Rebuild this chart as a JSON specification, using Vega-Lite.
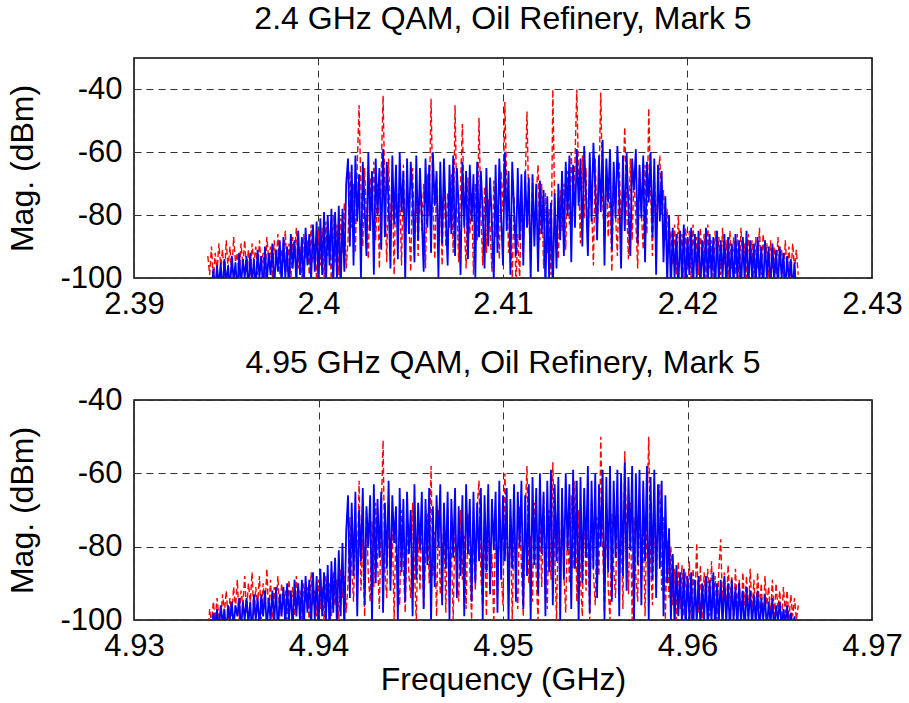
{
"$schema": "https://vega.github.io/schema/vega-lite/v6.json",
"background": "white",
"padding": {"left": 6, "top": 2, "right": 5, "bottom": 5},
"spacing": 122,
"bounds": "flush",
"config": {
 "font": "Liberation Sans",
 "view": {"stroke": "#000", "strokeWidth": 1.5},
 "axis": {"labelFontSize": 31, "titleFontSize": 32, "labelColor": "#000", "titleColor": "#000", "titleFontWeight": "normal", "grid": true, "gridColor": "#333", "gridDash": [7, 5], "gridWidth": 1, "gridOpacity": 1, "domain": false, "ticks": false, "labelFlush": false, "labelOverlap": false, "labelFont": "Liberation Sans", "titleFont": "Liberation Sans"},
 "axisX": {"labelPadding": 11, "titlePadding": 3},
 "axisY": {"labelPadding": 12, "titlePadding": 20},
 "title": {"fontSize": 32, "fontWeight": "normal", "font": "Liberation Sans", "color": "#000", "offset": 22}
},
"datasets": {
"top": [
{"f":2.394,"b":-106,"r":-93},{"f":2.3941,"b":-106,"r":-99},{"f":2.3942,"b":-106,"r":-90},{"f":2.3943,"b":-97,"r":-101},{"f":2.3944,"b":-104,"r":-92},{"f":2.3945,"b":-96,"r":-98},{"f":2.3946,"b":-103,"r":-89},{"f":2.3947,"b":-95,"r":-96},{"f":2.3948,"b":-105,"r":-91},{"f":2.3949,"b":-94,"r":-100},
{"f":2.395,"b":-102,"r":-88},{"f":2.3951,"b":-96,"r":-97},{"f":2.3952,"b":-104,"r":-90},{"f":2.3953,"b":-93,"r":-99},{"f":2.3954,"b":-101,"r":-87},{"f":2.3955,"b":-95,"r":-95},{"f":2.3956,"b":-105,"r":-92},{"f":2.3957,"b":-92,"r":-100},{"f":2.3958,"b":-103,"r":-89},{"f":2.3959,"b":-94,"r":-96},
{"f":2.396,"b":-100,"r":-88},{"f":2.3961,"b":-93,"r":-98},{"f":2.3962,"b":-105,"r":-91},{"f":2.3963,"b":-92,"r":-101},{"f":2.3964,"b":-102,"r":-89},{"f":2.3965,"b":-94,"r":-95},{"f":2.3966,"b":-104,"r":-90},{"f":2.3967,"b":-91,"r":-99},{"f":2.3968,"b":-100,"r":-88},{"f":2.3969,"b":-93,"r":-96},
{"f":2.397,"b":-105,"r":-92},{"f":2.3971,"b":-90,"r":-101},{"f":2.3972,"b":-102,"r":-87},{"f":2.3973,"b":-92,"r":-94},{"f":2.3974,"b":-99,"r":-90},{"f":2.3975,"b":-89,"r":-100},{"f":2.3976,"b":-104,"r":-88},{"f":2.3977,"b":-91,"r":-96},{"f":2.3978,"b":-98,"r":-86},{"f":2.3979,"b":-88,"r":-99},
{"f":2.398,"b":-103,"r":-91},{"f":2.3981,"b":-87,"r":-95},{"f":2.3982,"b":-100,"r":-85},{"f":2.3983,"b":-90,"r":-98},{"f":2.3984,"b":-105,"r":-89},{"f":2.3985,"b":-86,"r":-101},{"f":2.3986,"b":-97,"r":-87},{"f":2.3987,"b":-88,"r":-93},{"f":2.3988,"b":-102,"r":-84},{"f":2.3989,"b":-85,"r":-97},
{"f":2.399,"b":-99,"r":-90},{"f":2.3991,"b":-87,"r":-100},{"f":2.3992,"b":-104,"r":-86},{"f":2.3993,"b":-84,"r":-94},{"f":2.3994,"b":-96,"r":-88},{"f":2.3995,"b":-86,"r":-99},{"f":2.3996,"b":-101,"r":-83},{"f":2.3997,"b":-83,"r":-95},{"f":2.3998,"b":-98,"r":-89},{"f":2.3999,"b":-82,"r":-101},
{"f":2.4,"b":-103,"r":-85},{"f":2.4001,"b":-81,"r":-96},{"f":2.4002,"b":-99,"r":-84},{"f":2.4003,"b":-79,"r":-100},{"f":2.4004,"b":-104,"r":-82},{"f":2.4005,"b":-80,"r":-93},{"f":2.4006,"b":-96,"r":-86},{"f":2.4007,"b":-78,"r":-102},{"f":2.4008,"b":-102,"r":-80},{"f":2.4009,"b":-79,"r":-95},
{"f":2.401,"b":-100,"r":-83},{"f":2.4011,"b":-77,"r":-99},{"f":2.4012,"b":-105,"r":-81},{"f":2.4013,"b":-78,"r":-92},{"f":2.4014,"b":-98,"r":-76},{"f":2.4015,"b":-70,"r":-97},{"f":2.4016,"b":-62,"r":-88},{"f":2.4017,"b":-90,"r":-66},{"f":2.4018,"b":-64,"r":-84},{"f":2.4019,"b":-96,"r":-70},
{"f":2.402,"b":-61,"r":-92},{"f":2.4021,"b":-82,"r":-64},{"f":2.4022,"b":-67,"r":-45},{"f":2.4023,"b":-100,"r":-72},{"f":2.4024,"b":-63,"r":-90},{"f":2.4025,"b":-78,"r":-65},{"f":2.4026,"b":-93,"r":-81},{"f":2.4027,"b":-60,"r":-94},{"f":2.4028,"b":-85,"r":-68},{"f":2.4029,"b":-66,"r":-79},
{"f":2.403,"b":-99,"r":-63},{"f":2.4031,"b":-62,"r":-88},{"f":2.4032,"b":-80,"r":-70},{"f":2.4033,"b":-65,"r":-97},{"f":2.4034,"b":-91,"r":-66},{"f":2.4035,"b":-59,"r":-42},{"f":2.4036,"b":-87,"r":-74},{"f":2.4037,"b":-63,"r":-95},{"f":2.4038,"b":-76,"r":-62},{"f":2.4039,"b":-97,"r":-84},
{"f":2.404,"b":-61,"r":-70},{"f":2.4041,"b":-83,"r":-99},{"f":2.4042,"b":-64,"r":-67},{"f":2.4043,"b":-94,"r":-86},{"f":2.4044,"b":-60,"r":-73},{"f":2.4045,"b":-79,"r":-96},{"f":2.4046,"b":-66,"r":-64},{"f":2.4047,"b":-101,"r":-90},{"f":2.4048,"b":-62,"r":-69},{"f":2.4049,"b":-86,"r":-82},
{"f":2.405,"b":-63,"r":-98},{"f":2.4051,"b":-74,"r":-65},{"f":2.4052,"b":-95,"r":-88},{"f":2.4053,"b":-61,"r":-72},{"f":2.4054,"b":-88,"r":-93},{"f":2.4055,"b":-65,"r":-66},{"f":2.4056,"b":-81,"r":-85},{"f":2.4057,"b":-98,"r":-70},{"f":2.4058,"b":-62,"r":-97},{"f":2.4059,"b":-84,"r":-67},
{"f":2.406,"b":-64,"r":-80},{"f":2.4061,"b":-92,"r":-43},{"f":2.4062,"b":-60,"r":-75},{"f":2.4063,"b":-77,"r":-94},{"f":2.4064,"b":-66,"r":-68},{"f":2.4065,"b":-100,"r":-87},{"f":2.4066,"b":-63,"r":-71},{"f":2.4067,"b":-89,"r":-96},{"f":2.4068,"b":-62,"r":-66},{"f":2.4069,"b":-80,"r":-90},
{"f":2.407,"b":-96,"r":-73},{"f":2.4071,"b":-64,"r":-84},{"f":2.4072,"b":-86,"r":-67},{"f":2.4073,"b":-61,"r":-92},{"f":2.4074,"b":-93,"r":-45},{"f":2.4075,"b":-65,"r":-78},{"f":2.4076,"b":-78,"r":-95},{"f":2.4077,"b":-99,"r":-70},{"f":2.4078,"b":-63,"r":-51},{"f":2.4079,"b":-84,"r":-82},
{"f":2.408,"b":-66,"r":-97},{"f":2.4081,"b":-94,"r":-68},{"f":2.4082,"b":-64,"r":-86},{"f":2.4083,"b":-82,"r":-73},{"f":2.4084,"b":-67,"r":-99},{"f":2.4085,"b":-100,"r":-70},{"f":2.4086,"b":-63,"r":-88},{"f":2.4087,"b":-87,"r":-49},{"f":2.4088,"b":-66,"r":-80},{"f":2.4089,"b":-79,"r":-96},
{"f":2.409,"b":-97,"r":-71},{"f":2.4091,"b":-65,"r":-92},{"f":2.4092,"b":-90,"r":-75},{"f":2.4093,"b":-68,"r":-84},{"f":2.4094,"b":-83,"r":-98},{"f":2.4095,"b":-101,"r":-69},{"f":2.4096,"b":-64,"r":-87},{"f":2.4097,"b":-92,"r":-77},{"f":2.4098,"b":-62,"r":-94},{"f":2.4099,"b":-80,"r":-66},
{"f":2.41,"b":-96,"r":-79},{"f":2.4101,"b":-60,"r":-44},{"f":2.4102,"b":-85,"r":-70},{"f":2.4103,"b":-66,"r":-92},{"f":2.4104,"b":-99,"r":-81},{"f":2.4105,"b":-63,"r":-100},{"f":2.4106,"b":-78,"r":-74},{"f":2.4107,"b":-93,"r":-102},{"f":2.4108,"b":-65,"r":-86},{"f":2.4109,"b":-88,"r":-101},
{"f":2.411,"b":-67,"r":-76},{"f":2.4111,"b":-96,"r":-90},{"f":2.4112,"b":-66,"r":-71},{"f":2.4113,"b":-84,"r":-47},{"f":2.4114,"b":-68,"r":-79},{"f":2.4115,"b":-101,"r":-95},{"f":2.4116,"b":-67,"r":-68},{"f":2.4117,"b":-90,"r":-87},{"f":2.4118,"b":-70,"r":-74},{"f":2.4119,"b":-98,"r":-64},
{"f":2.412,"b":-69,"r":-88},{"f":2.4121,"b":-86,"r":-70},{"f":2.4122,"b":-72,"r":-97},{"f":2.4123,"b":-104,"r":-73},{"f":2.4124,"b":-74,"r":-92},{"f":2.4125,"b":-100,"r":-78},{"f":2.4126,"b":-76,"r":-99},{"f":2.4127,"b":-105,"r":-40},{"f":2.4128,"b":-73,"r":-76},{"f":2.4129,"b":-97,"r":-88},
{"f":2.413,"b":-70,"r":-94},{"f":2.4131,"b":-88,"r":-72},{"f":2.4132,"b":-66,"r":-85},{"f":2.4133,"b":-93,"r":-70},{"f":2.4134,"b":-63,"r":-91},{"f":2.4135,"b":-80,"r":-66},{"f":2.4136,"b":-61,"r":-83},{"f":2.4137,"b":-95,"r":-60},{"f":2.4138,"b":-64,"r":-77},{"f":2.4139,"b":-84,"r":-63},
{"f":2.414,"b":-59,"r":-40},{"f":2.4141,"b":-77,"r":-70},{"f":2.4142,"b":-62,"r":-89},{"f":2.4143,"b":-90,"r":-61},{"f":2.4144,"b":-58,"r":-81},{"f":2.4145,"b":-74,"r":-65},{"f":2.4146,"b":-93,"r":-92},{"f":2.4147,"b":-60,"r":-68},{"f":2.4148,"b":-82,"r":-76},{"f":2.4149,"b":-57,"r":-96},
{"f":2.415,"b":-71,"r":-62},{"f":2.4151,"b":-88,"r":-85},{"f":2.4152,"b":-61,"r":-70},{"f":2.4153,"b":-79,"r":-41},{"f":2.4154,"b":-56,"r":-74},{"f":2.4155,"b":-96,"r":-90},{"f":2.4156,"b":-62,"r":-64},{"f":2.4157,"b":-76,"r":-87},{"f":2.4158,"b":-59,"r":-71},{"f":2.4159,"b":-91,"r":-98},
{"f":2.416,"b":-63,"r":-66},{"f":2.4161,"b":-81,"r":-80},{"f":2.4162,"b":-58,"r":-93},{"f":2.4163,"b":-74,"r":-63},{"f":2.4164,"b":-97,"r":-86},{"f":2.4165,"b":-61,"r":-69},{"f":2.4166,"b":-85,"r":-52},{"f":2.4167,"b":-60,"r":-77},{"f":2.4168,"b":-78,"r":-94},{"f":2.4169,"b":-93,"r":-62},
{"f":2.417,"b":-62,"r":-88},{"f":2.4171,"b":-72,"r":-67},{"f":2.4172,"b":-59,"r":-82},{"f":2.4173,"b":-89,"r":-97},{"f":2.4174,"b":-64,"r":-65},{"f":2.4175,"b":-81,"r":-79},{"f":2.4176,"b":-61,"r":-91},{"f":2.4177,"b":-95,"r":-64},{"f":2.4178,"b":-63,"r":-86},{"f":2.4179,"b":-76,"r":-46},
{"f":2.418,"b":-60,"r":-72},{"f":2.4181,"b":-87,"r":-93},{"f":2.4182,"b":-62,"r":-66},{"f":2.4183,"b":-99,"r":-84},{"f":2.4184,"b":-64,"r":-70},{"f":2.4185,"b":-82,"r":-61},{"f":2.4186,"b":-66,"r":-80},{"f":2.4187,"b":-95,"r":-72},{"f":2.4188,"b":-74,"r":-88},{"f":2.4189,"b":-102,"r":-78},
{"f":2.419,"b":-80,"r":-92},{"f":2.4191,"b":-104,"r":-85},{"f":2.4192,"b":-84,"r":-96},{"f":2.4193,"b":-100,"r":-83},{"f":2.4194,"b":-86,"r":-99},{"f":2.4195,"b":-105,"r":-80},{"f":2.4196,"b":-85,"r":-94},{"f":2.4197,"b":-101,"r":-86},{"f":2.4198,"b":-83,"r":-100},{"f":2.4199,"b":-103,"r":-84},
{"f":2.42,"b":-87,"r":-97},{"f":2.4201,"b":-99,"r":-85},{"f":2.4202,"b":-84,"r":-101},{"f":2.4203,"b":-105,"r":-83},{"f":2.4204,"b":-86,"r":-95},{"f":2.4205,"b":-100,"r":-87},{"f":2.4206,"b":-85,"r":-99},{"f":2.4207,"b":-104,"r":-84},{"f":2.4208,"b":-88,"r":-96},{"f":2.4209,"b":-101,"r":-86},
{"f":2.421,"b":-84,"r":-100},{"f":2.4211,"b":-103,"r":-83},{"f":2.4212,"b":-86,"r":-97},{"f":2.4213,"b":-100,"r":-88},{"f":2.4214,"b":-87,"r":-101},{"f":2.4215,"b":-105,"r":-85},{"f":2.4216,"b":-85,"r":-94},{"f":2.4217,"b":-102,"r":-87},{"f":2.4218,"b":-88,"r":-99},{"f":2.4219,"b":-100,"r":-84},
{"f":2.422,"b":-86,"r":-96},{"f":2.4221,"b":-104,"r":-88},{"f":2.4222,"b":-87,"r":-100},{"f":2.4223,"b":-101,"r":-85},{"f":2.4224,"b":-89,"r":-97},{"f":2.4225,"b":-103,"r":-87},{"f":2.4226,"b":-86,"r":-99},{"f":2.4227,"b":-100,"r":-86},{"f":2.4228,"b":-88,"r":-101},{"f":2.4229,"b":-105,"r":-84},
{"f":2.423,"b":-87,"r":-95},{"f":2.4231,"b":-101,"r":-89},{"f":2.4232,"b":-85,"r":-100},{"f":2.4233,"b":-104,"r":-86},{"f":2.4234,"b":-88,"r":-96},{"f":2.4235,"b":-100,"r":-88},{"f":2.4236,"b":-89,"r":-101},{"f":2.4237,"b":-103,"r":-87},{"f":2.4238,"b":-87,"r":-97},{"f":2.4239,"b":-101,"r":-84},
{"f":2.424,"b":-90,"r":-99},{"f":2.4241,"b":-105,"r":-86},{"f":2.4242,"b":-88,"r":-95},{"f":2.4243,"b":-100,"r":-89},{"f":2.4244,"b":-90,"r":-100},{"f":2.4245,"b":-104,"r":-88},{"f":2.4246,"b":-89,"r":-97},{"f":2.4247,"b":-101,"r":-90},{"f":2.4248,"b":-91,"r":-99},{"f":2.4249,"b":-103,"r":-87},
{"f":2.425,"b":-90,"r":-96},{"f":2.4251,"b":-100,"r":-91},{"f":2.4252,"b":-92,"r":-101},{"f":2.4253,"b":-105,"r":-88},{"f":2.4254,"b":-93,"r":-98},{"f":2.4255,"b":-101,"r":-90},{"f":2.4256,"b":-94,"r":-100},{"f":2.4257,"b":-104,"r":-89},{"f":2.4258,"b":-95,"r":-97},{"f":2.4259,"b":-106,"r":-91},
{"f":2.426,"b":-106,"r":-99}
],
"bot": [
{"f":4.934,"b":-106,"r":-106},{"f":4.9341,"b":-106,"r":-97},{"f":4.9342,"b":-106,"r":-101},{"f":4.9343,"b":-98,"r":-95},{"f":4.9344,"b":-102,"r":-100},{"f":4.9345,"b":-97,"r":-94},{"f":4.9346,"b":-103,"r":-99},{"f":4.9347,"b":-96,"r":-101},{"f":4.9348,"b":-101,"r":-93},{"f":4.9349,"b":-97,"r":-98},
{"f":4.935,"b":-104,"r":-92},{"f":4.9351,"b":-96,"r":-100},{"f":4.9352,"b":-100,"r":-94},{"f":4.9353,"b":-95,"r":-99},{"f":4.9354,"b":-102,"r":-91},{"f":4.9355,"b":-96,"r":-97},{"f":4.9356,"b":-99,"r":-89},{"f":4.9357,"b":-94,"r":-100},{"f":4.9358,"b":-103,"r":-92},{"f":4.9359,"b":-95,"r":-96},
{"f":4.936,"b":-100,"r":-88},{"f":4.9361,"b":-94,"r":-98},{"f":4.9362,"b":-101,"r":-90},{"f":4.9363,"b":-95,"r":-95},{"f":4.9364,"b":-104,"r":-87},{"f":4.9365,"b":-93,"r":-99},{"f":4.9366,"b":-100,"r":-91},{"f":4.9367,"b":-94,"r":-96},{"f":4.9368,"b":-102,"r":-88},{"f":4.9369,"b":-93,"r":-100},
{"f":4.937,"b":-99,"r":-90},{"f":4.9371,"b":-92,"r":-97},{"f":4.9372,"b":-103,"r":-86},{"f":4.9373,"b":-94,"r":-98},{"f":4.9374,"b":-100,"r":-89},{"f":4.9375,"b":-92,"r":-101},{"f":4.9376,"b":-101,"r":-91},{"f":4.9377,"b":-91,"r":-96},{"f":4.9378,"b":-104,"r":-88},{"f":4.9379,"b":-93,"r":-99},
{"f":4.938,"b":-99,"r":-90},{"f":4.9381,"b":-91,"r":-95},{"f":4.9382,"b":-102,"r":-92},{"f":4.9383,"b":-90,"r":-100},{"f":4.9384,"b":-100,"r":-89},{"f":4.9385,"b":-92,"r":-97},{"f":4.9386,"b":-103,"r":-91},{"f":4.9387,"b":-89,"r":-99},{"f":4.9388,"b":-99,"r":-88},{"f":4.9389,"b":-90,"r":-96},
{"f":4.939,"b":-101,"r":-92},{"f":4.9391,"b":-89,"r":-100},{"f":4.9392,"b":-104,"r":-90},{"f":4.9393,"b":-88,"r":-95},{"f":4.9394,"b":-98,"r":-91},{"f":4.9395,"b":-89,"r":-101},{"f":4.9396,"b":-102,"r":-87},{"f":4.9397,"b":-87,"r":-96},{"f":4.9398,"b":-100,"r":-92},{"f":4.9399,"b":-88,"r":-99},
{"f":4.94,"b":-103,"r":-89},{"f":4.9401,"b":-86,"r":-97},{"f":4.9402,"b":-99,"r":-91},{"f":4.9403,"b":-87,"r":-100},{"f":4.9404,"b":-101,"r":-88},{"f":4.9405,"b":-85,"r":-95},{"f":4.9406,"b":-104,"r":-90},{"f":4.9407,"b":-84,"r":-99},{"f":4.9408,"b":-98,"r":-87},{"f":4.9409,"b":-83,"r":-96},
{"f":4.941,"b":-102,"r":-89},{"f":4.9411,"b":-81,"r":-100},{"f":4.9412,"b":-99,"r":-86},{"f":4.9413,"b":-79,"r":-94},{"f":4.9414,"b":-103,"r":-88},{"f":4.9415,"b":-76,"r":-98},{"f":4.9416,"b":-66,"r":-90},{"f":4.9417,"b":-94,"r":-72},{"f":4.9418,"b":-68,"r":-86},{"f":4.9419,"b":-88,"r":-95},
{"f":4.942,"b":-65,"r":-74},{"f":4.9421,"b":-99,"r":-89},{"f":4.9422,"b":-70,"r":-62},{"f":4.9423,"b":-84,"r":-92},{"f":4.9424,"b":-64,"r":-78},{"f":4.9425,"b":-96,"r":-99},{"f":4.9426,"b":-69,"r":-70},{"f":4.9427,"b":-80,"r":-88},{"f":4.9428,"b":-66,"r":-95},{"f":4.9429,"b":-101,"r":-73},
{"f":4.943,"b":-63,"r":-91},{"f":4.9431,"b":-90,"r":-68},{"f":4.9432,"b":-67,"r":-84},{"f":4.9433,"b":-83,"r":-97},{"f":4.9434,"b":-65,"r":-71},{"f":4.9435,"b":-98,"r":-51},{"f":4.9436,"b":-68,"r":-87},{"f":4.9437,"b":-86,"r":-94},{"f":4.9438,"b":-62,"r":-69},{"f":4.9439,"b":-92,"r":-90},
{"f":4.944,"b":-66,"r":-75},{"f":4.9441,"b":-79,"r":-100},{"f":4.9442,"b":-69,"r":-72},{"f":4.9443,"b":-100,"r":-89},{"f":4.9444,"b":-64,"r":-96},{"f":4.9445,"b":-87,"r":-70},{"f":4.9446,"b":-67,"r":-85},{"f":4.9447,"b":-95,"r":-98},{"f":4.9448,"b":-65,"r":-73},{"f":4.9449,"b":-82,"r":-88},
{"f":4.945,"b":-70,"r":-94},{"f":4.9451,"b":-99,"r":-68},{"f":4.9452,"b":-63,"r":-86},{"f":4.9453,"b":-89,"r":-101},{"f":4.9454,"b":-68,"r":-74},{"f":4.9455,"b":-81,"r":-92},{"f":4.9456,"b":-65,"r":-70},{"f":4.9457,"b":-97,"r":-97},{"f":4.9458,"b":-67,"r":-83},{"f":4.9459,"b":-85,"r":-71},
{"f":4.946,"b":-64,"r":-90},{"f":4.9461,"b":-101,"r":-58},{"f":4.9462,"b":-69,"r":-88},{"f":4.9463,"b":-91,"r":-76},{"f":4.9464,"b":-66,"r":-99},{"f":4.9465,"b":-80,"r":-70},{"f":4.9466,"b":-63,"r":-93},{"f":4.9467,"b":-96,"r":-85},{"f":4.9468,"b":-68,"r":-72},{"f":4.9469,"b":-86,"r":-98},
{"f":4.947,"b":-65,"r":-69},{"f":4.9471,"b":-100,"r":-91},{"f":4.9472,"b":-67,"r":-80},{"f":4.9473,"b":-83,"r":-100},{"f":4.9474,"b":-64,"r":-73},{"f":4.9475,"b":-94,"r":-87},{"f":4.9476,"b":-69,"r":-95},{"f":4.9477,"b":-88,"r":-70},{"f":4.9478,"b":-66,"r":-89},{"f":4.9479,"b":-99,"r":-77},
{"f":4.948,"b":-63,"r":-97},{"f":4.9481,"b":-82,"r":-71},{"f":4.9482,"b":-67,"r":-86},{"f":4.9483,"b":-95,"r":-100},{"f":4.9484,"b":-65,"r":-74},{"f":4.9485,"b":-90,"r":-92},{"f":4.9486,"b":-68,"r":-69},{"f":4.9487,"b":-84,"r":-62},{"f":4.9488,"b":-64,"r":-88},{"f":4.9489,"b":-100,"r":-96},
{"f":4.949,"b":-66,"r":-73},{"f":4.9491,"b":-87,"r":-99},{"f":4.9492,"b":-63,"r":-70},{"f":4.9493,"b":-93,"r":-90},{"f":4.9494,"b":-67,"r":-82},{"f":4.9495,"b":-81,"r":-101},{"f":4.9496,"b":-65,"r":-72},{"f":4.9497,"b":-98,"r":-94},{"f":4.9498,"b":-62,"r":-68},{"f":4.9499,"b":-89,"r":-87},
{"f":4.95,"b":-66,"r":-96},{"f":4.9501,"b":-84,"r":-60},{"f":4.9502,"b":-64,"r":-75},{"f":4.9503,"b":-101,"r":-92},{"f":4.9504,"b":-67,"r":-70},{"f":4.9505,"b":-86,"r":-100},{"f":4.9506,"b":-63,"r":-73},{"f":4.9507,"b":-95,"r":-89},{"f":4.9508,"b":-65,"r":-97},{"f":4.9509,"b":-80,"r":-69},
{"f":4.951,"b":-62,"r":-86},{"f":4.9511,"b":-97,"r":-99},{"f":4.9512,"b":-66,"r":-71},{"f":4.9513,"b":-88,"r":-58},{"f":4.9514,"b":-63,"r":-90},{"f":4.9515,"b":-100,"r":-77},{"f":4.9516,"b":-61,"r":-95},{"f":4.9517,"b":-85,"r":-68},{"f":4.9518,"b":-64,"r":-88},{"f":4.9519,"b":-93,"r":-100},
{"f":4.952,"b":-60,"r":-72},{"f":4.9521,"b":-82,"r":-91},{"f":4.9522,"b":-65,"r":-66},{"f":4.9523,"b":-99,"r":-85},{"f":4.9524,"b":-62,"r":-97},{"f":4.9525,"b":-87,"r":-70},{"f":4.9526,"b":-59,"r":-89},{"f":4.9527,"b":-96,"r":-57},{"f":4.9528,"b":-63,"r":-80},{"f":4.9529,"b":-84,"r":-100},
{"f":4.953,"b":-61,"r":-71},{"f":4.9531,"b":-100,"r":-93},{"f":4.9532,"b":-64,"r":-67},{"f":4.9533,"b":-89,"r":-88},{"f":4.9534,"b":-60,"r":-98},{"f":4.9535,"b":-81,"r":-73},{"f":4.9536,"b":-63,"r":-90},{"f":4.9537,"b":-97,"r":-66},{"f":4.9538,"b":-59,"r":-86},{"f":4.9539,"b":-86,"r":-62},
{"f":4.954,"b":-62,"r":-95},{"f":4.9541,"b":-101,"r":-70},{"f":4.9542,"b":-61,"r":-89},{"f":4.9543,"b":-90,"r":-99},{"f":4.9544,"b":-64,"r":-68},{"f":4.9545,"b":-83,"r":-92},{"f":4.9546,"b":-58,"r":-74},{"f":4.9547,"b":-98,"r":-100},{"f":4.9548,"b":-62,"r":-67},{"f":4.9549,"b":-86,"r":-87},
{"f":4.955,"b":-60,"r":-96},{"f":4.9551,"b":-94,"r":-72},{"f":4.9552,"b":-63,"r":-88},{"f":4.9553,"b":-80,"r":-50},{"f":4.9554,"b":-59,"r":-79},{"f":4.9555,"b":-100,"r":-98},{"f":4.9556,"b":-61,"r":-69},{"f":4.9557,"b":-87,"r":-91},{"f":4.9558,"b":-58,"r":-100},{"f":4.9559,"b":-95,"r":-71},
{"f":4.956,"b":-62,"r":-86},{"f":4.9561,"b":-83,"r":-94},{"f":4.9562,"b":-59,"r":-66},{"f":4.9563,"b":-99,"r":-89},{"f":4.9564,"b":-60,"r":-73},{"f":4.9565,"b":-88,"r":-97},{"f":4.9566,"b":-57,"r":-54},{"f":4.9567,"b":-92,"r":-77},{"f":4.9568,"b":-61,"r":-93},{"f":4.9569,"b":-81,"r":-68},
{"f":4.957,"b":-58,"r":-100},{"f":4.9571,"b":-101,"r":-72},{"f":4.9572,"b":-60,"r":-88},{"f":4.9573,"b":-85,"r":-95},{"f":4.9574,"b":-59,"r":-66},{"f":4.9575,"b":-96,"r":-90},{"f":4.9576,"b":-62,"r":-75},{"f":4.9577,"b":-84,"r":-99},{"f":4.9578,"b":-58,"r":-70},{"f":4.9579,"b":-100,"r":-50},
{"f":4.958,"b":-61,"r":-84},{"f":4.9581,"b":-89,"r":-96},{"f":4.9582,"b":-59,"r":-68},{"f":4.9583,"b":-94,"r":-91},{"f":4.9584,"b":-63,"r":-74},{"f":4.9585,"b":-86,"r":-63},{"f":4.9586,"b":-62,"r":-92},{"f":4.9587,"b":-99,"r":-72},{"f":4.9588,"b":-66,"r":-100},{"f":4.9589,"b":-90,"r":-78},
{"f":4.959,"b":-75,"r":-94},{"f":4.9591,"b":-100,"r":-80},{"f":4.9592,"b":-82,"r":-96},{"f":4.9593,"b":-102,"r":-86},{"f":4.9594,"b":-85,"r":-100},{"f":4.9595,"b":-99,"r":-84},{"f":4.9596,"b":-87,"r":-97},{"f":4.9597,"b":-101,"r":-85},{"f":4.9598,"b":-86,"r":-99},{"f":4.9599,"b":-103,"r":-87},
{"f":4.96,"b":-88,"r":-94},{"f":4.9601,"b":-100,"r":-84},{"f":4.9602,"b":-87,"r":-100},{"f":4.9603,"b":-104,"r":-86},{"f":4.9604,"b":-89,"r":-96},{"f":4.9605,"b":-101,"r":-79},{"f":4.9606,"b":-88,"r":-98},{"f":4.9607,"b":-102,"r":-85},{"f":4.9608,"b":-90,"r":-101},{"f":4.9609,"b":-100,"r":-87},
{"f":4.961,"b":-88,"r":-95},{"f":4.9611,"b":-103,"r":-86},{"f":4.9612,"b":-89,"r":-99},{"f":4.9613,"b":-101,"r":-84},{"f":4.9614,"b":-87,"r":-97},{"f":4.9615,"b":-104,"r":-88},{"f":4.9616,"b":-90,"r":-100},{"f":4.9617,"b":-100,"r":-86},{"f":4.9618,"b":-89,"r":-78},{"f":4.9619,"b":-102,"r":-96},
{"f":4.962,"b":-88,"r":-87},{"f":4.9621,"b":-101,"r":-99},{"f":4.9622,"b":-90,"r":-85},{"f":4.9623,"b":-104,"r":-95},{"f":4.9624,"b":-89,"r":-88},{"f":4.9625,"b":-100,"r":-101},{"f":4.9626,"b":-91,"r":-86},{"f":4.9627,"b":-103,"r":-97},{"f":4.9628,"b":-90,"r":-89},{"f":4.9629,"b":-101,"r":-100},
{"f":4.963,"b":-92,"r":-87},{"f":4.9631,"b":-104,"r":-96},{"f":4.9632,"b":-91,"r":-88},{"f":4.9633,"b":-100,"r":-99},{"f":4.9634,"b":-92,"r":-86},{"f":4.9635,"b":-102,"r":-98},{"f":4.9636,"b":-93,"r":-89},{"f":4.9637,"b":-101,"r":-100},{"f":4.9638,"b":-92,"r":-87},{"f":4.9639,"b":-104,"r":-97},
{"f":4.964,"b":-94,"r":-90},{"f":4.9641,"b":-100,"r":-101},{"f":4.9642,"b":-93,"r":-88},{"f":4.9643,"b":-103,"r":-96},{"f":4.9644,"b":-95,"r":-91},{"f":4.9645,"b":-101,"r":-99},{"f":4.9646,"b":-94,"r":-89},{"f":4.9647,"b":-104,"r":-100},{"f":4.9648,"b":-96,"r":-90},{"f":4.9649,"b":-100,"r":-97},
{"f":4.965,"b":-95,"r":-92},{"f":4.9651,"b":-103,"r":-101},{"f":4.9652,"b":-97,"r":-91},{"f":4.9653,"b":-101,"r":-98},{"f":4.9654,"b":-96,"r":-92},{"f":4.9655,"b":-104,"r":-100},{"f":4.9656,"b":-98,"r":-93},{"f":4.9657,"b":-102,"r":-99},{"f":4.9658,"b":-99,"r":-94},{"f":4.9659,"b":-106,"r":-100},
{"f":4.966,"b":-106,"r":-96}
]
},
"vconcat": [
 {
  "width": 738, "height": 220,
  "title": {"text": "2.4 GHz QAM, Oil Refinery, Mark 5", "offset": 22},
  "data": {"name": "top"},
  "encoding": {"x": {"field": "f", "type": "quantitative", "scale": {"domain": [2.39, 2.43], "nice": false, "zero": false}, "axis": {"values": [2.39, 2.4, 2.41, 2.42, 2.43], "title": null, "labelExpr": "'' + datum.value"}}},
  "layer": [
   {"mark": {"type": "line", "color": "#ff0000", "strokeWidth": 1.4, "strokeDash": [6, 3], "clip": true},
    "encoding": {"y": {"field": "r", "type": "quantitative", "scale": {"domain": [-100, -30], "nice": false, "zero": false}, "axis": {"values": [-100, -80, -60, -40], "title": "Mag. (dBm)", "labelExpr": "'' + datum.value"}}}},
   {"mark": {"type": "line", "color": "#0000ff", "strokeWidth": 1.8, "clip": true},
    "encoding": {"y": {"field": "b", "type": "quantitative", "scale": {"domain": [-100, -30], "nice": false, "zero": false}, "axis": {"values": [-100, -80, -60, -40], "title": "Mag. (dBm)", "labelExpr": "'' + datum.value"}}}}
  ]
 },
 {
  "width": 738, "height": 220,
  "title": {"text": "4.95 GHz QAM, Oil Refinery, Mark 5", "offset": 4},
  "data": {"name": "bot"},
  "encoding": {"x": {"field": "f", "type": "quantitative", "scale": {"domain": [4.93, 4.97], "nice": false, "zero": false}, "axis": {"values": [4.93, 4.94, 4.95, 4.96, 4.97], "title": "Frequency (GHz)", "labelExpr": "'' + datum.value"}}},
  "layer": [
   {"mark": {"type": "line", "color": "#ff0000", "strokeWidth": 1.4, "strokeDash": [6, 3], "clip": true},
    "encoding": {"y": {"field": "r", "type": "quantitative", "scale": {"domain": [-100, -40], "nice": false, "zero": false}, "axis": {"values": [-100, -80, -60, -40], "title": "Mag. (dBm)", "labelExpr": "'' + datum.value"}}}},
   {"mark": {"type": "line", "color": "#0000ff", "strokeWidth": 1.8, "clip": true},
    "encoding": {"y": {"field": "b", "type": "quantitative", "scale": {"domain": [-100, -40], "nice": false, "zero": false}, "axis": {"values": [-100, -80, -60, -40], "title": "Mag. (dBm)", "labelExpr": "'' + datum.value"}}}}
  ]
 }
]
}
